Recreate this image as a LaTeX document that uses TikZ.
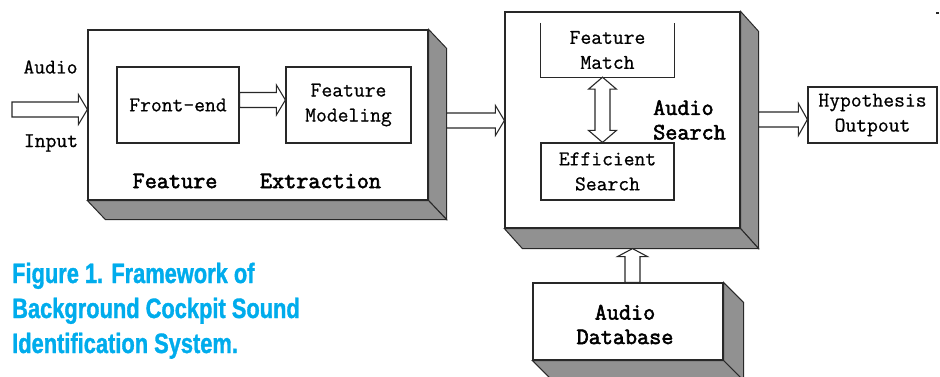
\documentclass[tikz,border=0pt]{standalone}
\usepackage{fontspec}
\usetikzlibrary{calc}
\newfontfamily\diagfont[FakeBold=0.7]{Latin Modern Mono}
\newfontfamily\diagbold[FakeBold=2.4]{Latin Modern Mono}
\newfontfamily\capfont[FakeStretch=0.78,FakeBold=1.2]{Liberation Sans}
\definecolor{capblue}{RGB}{0,172,236}
\definecolor{edge}{RGB}{40,40,40}
\definecolor{depth}{RGB}{145,145,145}

\tikzset{
  plain/.style={draw=edge, line width=1.2pt, fill=white, inner sep=0pt},
  labeltext/.style={font=\diagfont\fontsize{21}{25}\selectfont, align=center},
  titletext/.style={font=\diagbold\fontsize{23.5}{24.5}\selectfont, align=left},
  captext/.style={font=\capfont\bfseries\fontsize{28}{34}\selectfont, text=capblue, anchor=base west, inner sep=0pt},
  blockarrow/.style={draw=edge, line width=1.1pt, fill=white, line join=miter},
  slab/.style={draw=edge, line width=1pt, fill=depth},
}

% grey right side and bottom face of a raised block
\newcommand\slabsides[3]{%
  \draw[slab] (#1.north east) -- ++(#2,#3) -- ($(#1.south east)+(#2,#3)$) -- (#1.south east) -- cycle;
  \draw[slab] (#1.south west) -- ++(#2,#3) -- ($(#1.south east)+(#2,#3)$) -- (#1.south east) -- cycle;
}

% hollow arrow pointing right: start, end, centre line, head half-width
\newcommand\harrow[4]{%
  \draw[blockarrow] let \p1=(#1), \p2=(#2), \p3=(0,#3) in
    (\x1,\y3+7.5pt) -- (\x2-9pt,\y3+7.5pt) -- (\x2-9pt,\y3+#4pt) -- (\x2,\y3)
    -- (\x2-9pt,\y3-#4pt) -- (\x2-9pt,\y3-7.5pt) -- (\x1,\y3-7.5pt) -- cycle;
}

\begin{document}
\begin{tikzpicture}[x=1pt, y=-1pt]
  \useasboundingbox (0,0) rectangle (940,377);
  \clip (0,0) rectangle (940,377);

  % feature extraction block
  \node[plain, minimum width=340pt, minimum height=170pt] (box1) at (258,115) {};
  \slabsides{box1}{18}{19}
  \node[plain, labeltext, minimum width=122pt, minimum height=76pt] (fe) at (178,105) {Front-end};
  \node[plain, labeltext, minimum width=125pt, minimum height=76pt] (fmod) at (348.5,105) {Feature\\Modeling};
  \node[titletext] (t1a) at (175,181) {Feature};
  \node[titletext] (t1b) at (320.5,181) {Extraction};

  % audio search block
  \node[plain, minimum width=235pt, minimum height=216pt] (box2) at (622.5,120) {};
  \slabsides{box2}{18}{20}
  \node[labeltext, inner sep=0pt, minimum width=133pt, minimum height=54pt] (match) at (607.5,50) {Feature\\Match};
  \draw[edge, line width=1.2pt] (match.north west) -- (match.south west) -- (match.south east) -- (match.north east);
  \node[plain, labeltext, minimum width=133pt, minimum height=57pt] (es) at (607.5,171.5) {Efficient\\Search};
  \node[titletext, anchor=west, inner sep=0pt] (t2) at (653,120) {Audio\\Search};

  % output
  \node[plain, labeltext, minimum width=129pt, minimum height=56pt] (hyp) at (872.5,115) {Hypothesis\\Outpout};

  % database block
  \node[plain, minimum width=190pt, minimum height=77pt] (db) at (628,321.5) {};
  \slabsides{db}{20}{20}
  \node[titletext, align=center] (t3) at (625,324.5) {Audio\\Database};

  % input labels
  \node[labeltext] (lin1) at (50.5,67) {Audio};
  \node[labeltext] (lin2) at (51,143) {Input};
  \coordinate (src) at (12,109.5);

  % hollow arrows
  \harrow{src}{box1.west}{109.5}{15}
  \harrow{fe.east}{fmod.west}{100}{15}
  \harrow{$(box1.east)+(18,0)$}{box2.west}{120.5}{15}
  \harrow{$(box2.east)+(18,0)$}{hyp.west}{119.5}{16}

  % two-way arrow between match and search
  \draw[blockarrow] let \p1=(match.south), \p2=(es.north), \p3=(602.5,0) in
    (\x3,\y1) -- (\x3+14pt,\y1-12pt) -- (\x3+7.5pt,\y1-12pt) -- (\x3+7.5pt,\y2+12pt)
    -- (\x3+14pt,\y2+12pt) -- (\x3,\y2) -- (\x3-14pt,\y2+12pt) -- (\x3-7.5pt,\y2+12pt)
    -- (\x3-7.5pt,\y1-12pt) -- (\x3-14pt,\y1-12pt) -- cycle;

  % database feeding the search block
  \draw[blockarrow] let \p1=(db.north), \p2=($(box2.south)+(0,20)$), \p3=(632.5,0) in
    (\x3-7.5pt,\y1) -- (\x3-7.5pt,\y2-8pt) -- (\x3-15pt,\y2-8pt) -- (\x3,\y2)
    -- (\x3+15pt,\y2-8pt) -- (\x3+7.5pt,\y2-8pt) -- (\x3+7.5pt,\y1) -- cycle;

  % caption
  \node[captext] (cap1) at (12,283) {Figure 1. Framework of};
  \node[captext] (cap2) at (12,318) {Background Cockpit Sound};
  \node[captext] (cap3) at (12,353) {Identification System.};

  % small mark in the corner
  \fill[edge] (936,12.5) rectangle (939,14.5);
\end{tikzpicture}
\end{document}
